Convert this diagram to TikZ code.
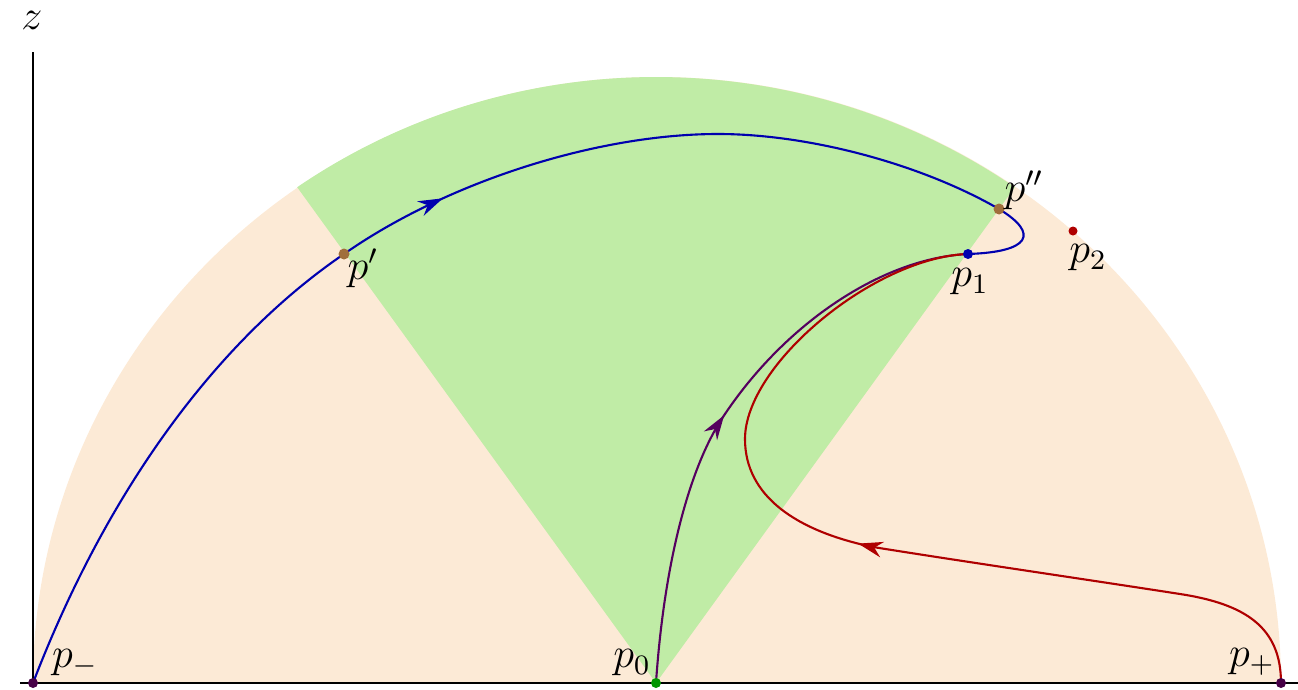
\documentclass[tikz,border=0pt]{standalone}
\usetikzlibrary{decorations.markings,arrows.meta}
\definecolor{peach}{RGB}{252,234,214}
\definecolor{sectorgreen}{RGB}{192,236,166}
\definecolor{flowblue}{RGB}{0,0,175}
\definecolor{flowred}{RGB}{175,0,0}
\definecolor{flowpurple}{RGB}{85,0,95}
\definecolor{dotbrown}{RGB}{160,110,60}
\definecolor{dotgreen}{RGB}{0,150,0}
\definecolor{dotpurple}{RGB}{70,0,70}
\begin{document}
\begin{tikzpicture}
    [flow/.style={line width=0.6pt},
     midarrow/.style={postaction={decorate},decoration={markings,
       mark=at position #1 with {\arrow{Stealth[length=7pt,width=4.5pt]}}}},
     lbl/.style={font=\large,inner sep=0pt}]
    \useasboundingbox (0,0) rectangle (12.98,6.89);
    %points
    \coordinate (p0) at (6.56,0.06);
    \coordinate (pm) at (0.33,0.06);
    \coordinate (pp) at (12.81,0.06);
    \coordinate (p1) at (9.68,4.35);
    \coordinate (p2) at (10.73,4.58);
    \coordinate (pa) at (3.44,4.35);
    \coordinate (pb) at (9.99,4.80);
    %regions
    \fill[peach] (pm) arc[start angle=180,end angle=0,x radius=6.24,y radius=6.06] -- cycle;
    \fill[sectorgreen] (p0) -- ++(54.9:6.24 and 6.06)
      arc[start angle=54.9,end angle=125.1,x radius=6.24,y radius=6.06] -- cycle;
    %axes
    \draw[line width=0.8pt] (0.20,0.06) -- (12.98,0.06);
    \draw[line width=0.8pt] (pm) -- (0.33,6.37);
    \node[lbl] (zlabel) at (0.32,6.69) {$z$};
    %blue orbit
    \coordinate (btop) at (7.18,5.55);
    \draw[flow,flowblue,midarrow=0.49] (pm) .. controls (1.06,1.96) and (2.15,3.47) .. (pa)
      .. controls (4.47,5.07) and (5.97,5.55) .. (btop)
      .. controls (8.09,5.55) and (9.21,5.25) .. (pb)
      .. controls (10.40,4.55) and (10.30,4.37) .. (p1);
    %purple orbit
    \coordinate (pmid) at (7.23,2.72);
    \draw[flow,flowpurple,midarrow=0.48] (p0) .. controls (6.64,1.25) and (6.89,2.21) .. (pmid)
      .. controls (7.85,3.66) and (8.83,4.31) .. (p1);
    %red orbit
    \coordinate (rknee) at (11.80,0.95);
    \coordinate (rturn) at (8.73,1.42);
    \coordinate (rleft) at (7.45,2.50);
    \draw[flow,flowred,midarrow=0.50] (pp) .. controls (12.81,0.62) and (12.45,0.85) .. (rknee)
      .. controls (10.90,1.09) and (9.60,1.28) .. (rturn)
      .. controls (7.96,1.58) and (7.45,1.93) .. (rleft)
      .. controls (7.45,3.25) and (8.75,4.32) .. (p1);
    %dots
    \fill[dotgreen] (p0) circle (0.05);
    \fill[dotpurple] (pm) circle (0.05);
    \fill[dotpurple] (pp) circle (0.05);
    \fill[flowblue] (p1) circle (0.05);
    \fill[flowred] (p2) circle (0.045);
    \fill[dotbrown] (pa) circle (0.055);
    \fill[dotbrown] (pb) circle (0.055);
    %labels
    \node[lbl] (lpm) at (0.75,0.26) {$p_-$};
    \node[lbl] (lp0) at (6.32,0.26) {$p_0$};
    \node[lbl] (lpp) at (12.52,0.27) {$p_+$};
    \node[lbl] (lpa) at (3.63,4.21) {$p'$};
    \node[lbl] (lpb) at (10.24,4.99) {$p''$};
    \node[lbl] (lp1) at (9.70,4.07) {$p_1$};
    \node[lbl] (lp2) at (10.88,4.31) {$p_2$};
\end{tikzpicture}
\end{document}
